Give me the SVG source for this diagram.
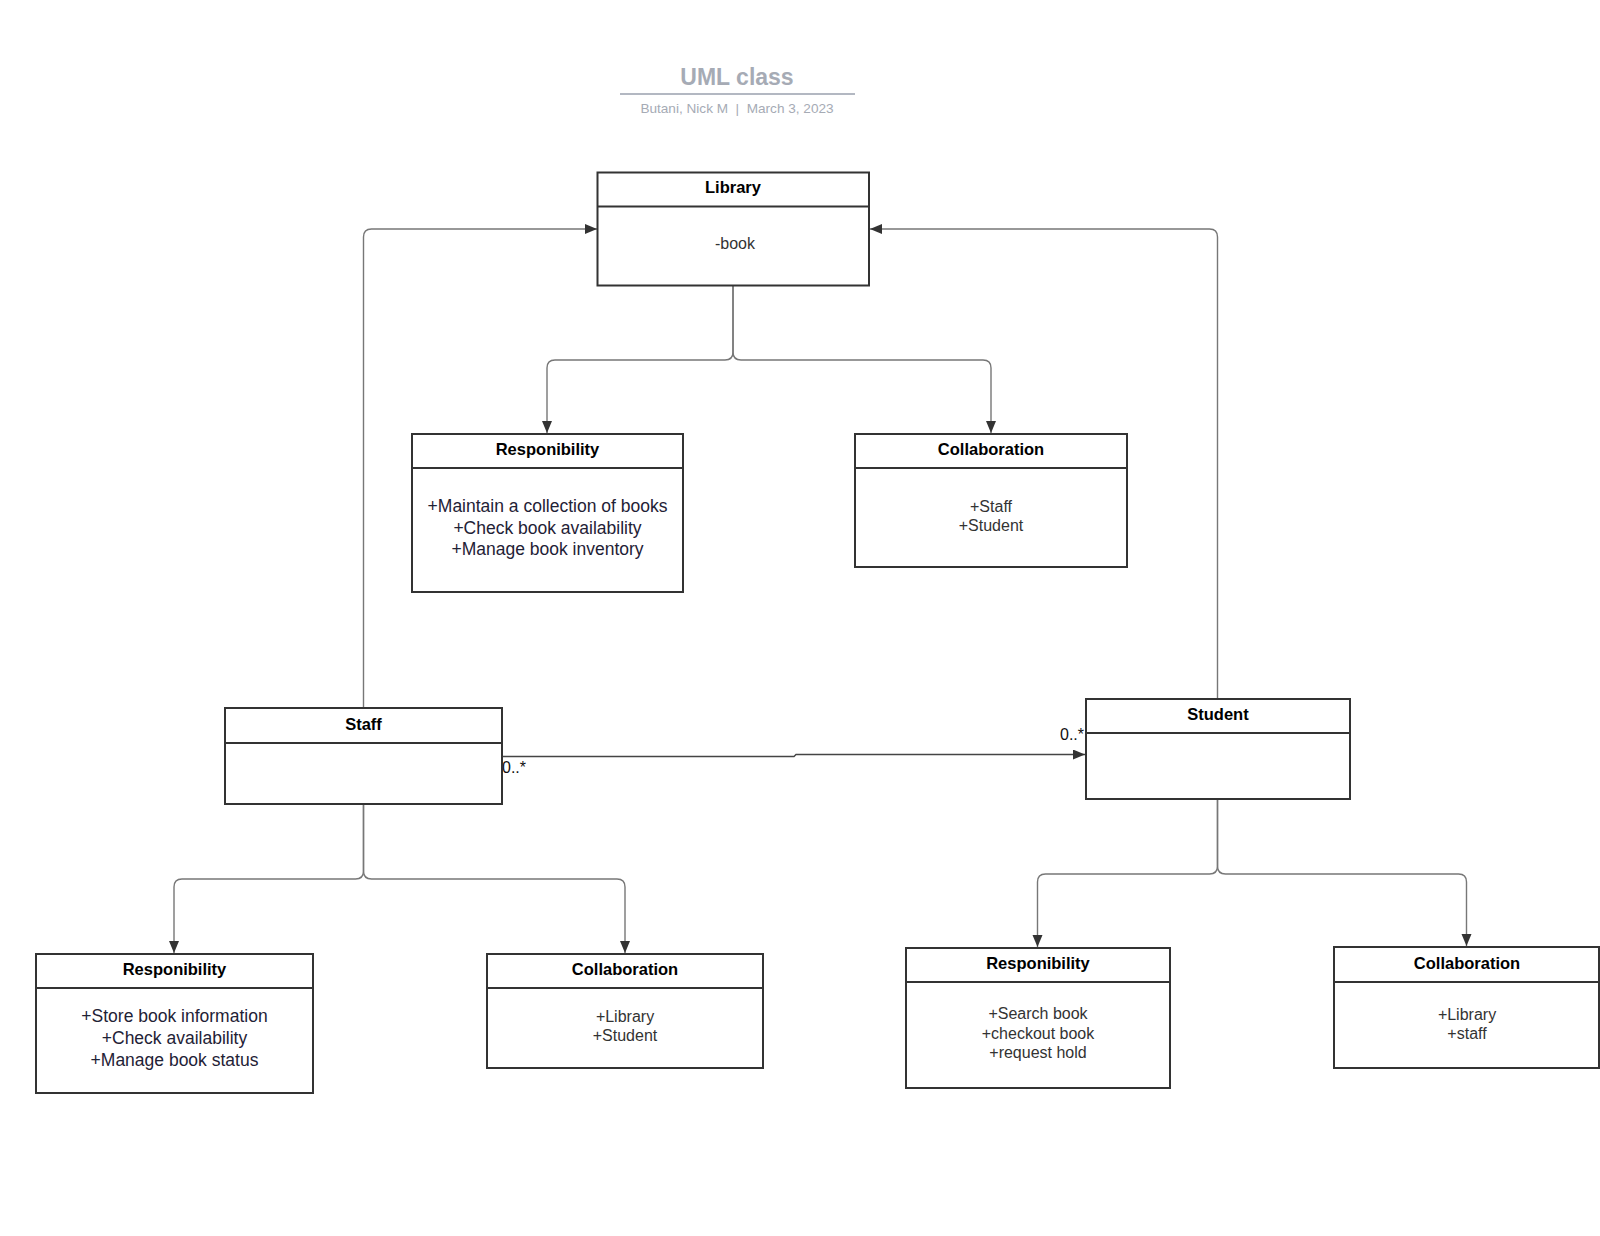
<svg xmlns="http://www.w3.org/2000/svg" width="1600" height="1236" viewBox="0 0 1600 1236">
<style>
.box{fill:#fff;stroke:#333;stroke-width:2}
.sep{stroke:#333;stroke-width:2}
.hd{font-family:"Liberation Sans",Arial,sans-serif;font-weight:bold;font-size:16.5px;fill:#000;text-anchor:middle}
.bd{font-family:"Liberation Sans",Arial,sans-serif;font-size:16px;fill:#333;text-anchor:middle}
.bl{font-family:"Liberation Sans",Arial,sans-serif;font-size:17.5px;fill:#1f2236;text-anchor:middle}
.lb{font-family:"Liberation Sans",Arial,sans-serif;font-size:16px;fill:#111}
.cn{fill:none;stroke:#777;stroke-width:1.4}
</style>
<defs>
<marker id="ah" markerUnits="userSpaceOnUse" markerWidth="13" markerHeight="11" refX="12" refY="5" orient="auto">
<path d="M0,0 L12,5 L0,10 z" fill="#333"/>
</marker>
</defs>
<rect width="1600" height="1236" fill="#fff"/>
<g id="title">
<text x="737" y="85" font-family="Liberation Sans, Arial, sans-serif" font-weight="bold" font-size="23" fill="#a6abb5" text-anchor="middle">UML class</text>
<line x1="620" y1="94" x2="855" y2="94" stroke="#b3b8c2" stroke-width="2"/>
<text x="737" y="113" font-family="Liberation Sans, Arial, sans-serif" font-size="13.6" fill="#a6abb5" text-anchor="middle" xml:space="preserve">Butani, Nick M  |  March 3, 2023</text>
</g>
<g id="connectors">
<path class="cn" d="M363.5 708 V237 Q363.5 229 371.5 229 H597" marker-end="url(#ah)"/>
<path class="cn" d="M1217.5 699 V237 Q1217.5 229 1209.5 229 H870" marker-end="url(#ah)"/>
<path class="cn" d="M733 286 V352 Q733 360 725 360 H555 Q547 360 547 368 V433" marker-end="url(#ah)"/>
<path class="cn" d="M733 286 V352 Q733 360 741 360 H983 Q991 360 991 368 V433" marker-end="url(#ah)"/>
<path class="cn" d="M363.5 804 V871 Q363.5 879 355.5 879 H182 Q174 879 174 887 V953" marker-end="url(#ah)"/>
<path class="cn" d="M363.5 804 V871 Q363.5 879 371.5 879 H617 Q625 879 625 887 V953" marker-end="url(#ah)"/>
<path class="cn" d="M1217.5 799 V866 Q1217.5 874 1209.5 874 H1045.5 Q1037.5 874 1037.5 882 V947" marker-end="url(#ah)"/>
<path class="cn" d="M1217.5 799 V866 Q1217.5 874 1225.5 874 H1458.5 Q1466.5 874 1466.5 882 V946" marker-end="url(#ah)"/>
<path d="M502 756.5 H794 L796 754.5 H1085" fill="none" stroke="#444" stroke-width="1.4" marker-end="url(#ah)"/>
<text class="lb" x="502" y="773">0..*</text>
<text class="lb" x="1060" y="740">0..*</text>
</g>
<g id="library">
<rect class="box" x="597.5" y="172.5" width="271.5" height="113"/>
<line class="sep" x1="597.5" y1="206.5" x2="869" y2="206.5"/>
<text class="hd" x="733" y="193">Library</text>
<text class="bd" x="735" y="249">-book</text>
</g>
<g id="responsibility-library">
<rect class="box" x="412" y="434" width="271" height="158"/>
<line class="sep" x1="412" y1="468" x2="683" y2="468"/>
<text class="hd" x="547.5" y="455">Responibility</text>
<text class="bl" x="547.5" y="512">+Maintain a collection of books</text>
<text class="bl" x="547.5" y="533.5">+Check book availability</text>
<text class="bl" x="547.5" y="555">+Manage book inventory</text>
</g>
<g id="collaboration-library">
<rect class="box" x="855" y="434" width="272" height="133"/>
<line class="sep" x1="855" y1="468" x2="1127" y2="468"/>
<text class="hd" x="991" y="455">Collaboration</text>
<text class="bd" x="991" y="512">+Staff</text>
<text class="bd" x="991" y="531">+Student</text>
</g>
<g id="staff">
<rect class="box" x="225" y="708" width="277" height="96"/>
<line class="sep" x1="225" y1="743" x2="502" y2="743"/>
<text class="hd" x="363.5" y="730">Staff</text>
</g>
<g id="student">
<rect class="box" x="1086" y="699" width="264" height="100"/>
<line class="sep" x1="1086" y1="733" x2="1350" y2="733"/>
<text class="hd" x="1218" y="720">Student</text>
</g>
<g id="responsibility-staff">
<rect class="box" x="36" y="954" width="277" height="139"/>
<line class="sep" x1="36" y1="988" x2="313" y2="988"/>
<text class="hd" x="174.5" y="975">Responibility</text>
<text class="bl" x="174.5" y="1022">+Store book information</text>
<text class="bl" x="174.5" y="1044">+Check availability</text>
<text class="bl" x="174.5" y="1066">+Manage book status</text>
</g>
<g id="collaboration-staff">
<rect class="box" x="487" y="954" width="276" height="114"/>
<line class="sep" x1="487" y1="988" x2="763" y2="988"/>
<text class="hd" x="625" y="975">Collaboration</text>
<text class="bd" x="625" y="1022">+Library</text>
<text class="bd" x="625" y="1041">+Student</text>
</g>
<g id="responsibility-student">
<rect class="box" x="906" y="948" width="264" height="140"/>
<line class="sep" x1="906" y1="982" x2="1170" y2="982"/>
<text class="hd" x="1038" y="969">Responibility</text>
<text class="bd" x="1038" y="1019">+Search book</text>
<text class="bd" x="1038" y="1038.5">+checkout book</text>
<text class="bd" x="1038" y="1058">+request hold</text>
</g>
<g id="collaboration-student">
<rect class="box" x="1334" y="947" width="265" height="121"/>
<line class="sep" x1="1334" y1="982" x2="1599" y2="982"/>
<text class="hd" x="1467" y="969">Collaboration</text>
<text class="bd" x="1467" y="1020">+Library</text>
<text class="bd" x="1467" y="1039">+staff</text>
</g>
</svg>
